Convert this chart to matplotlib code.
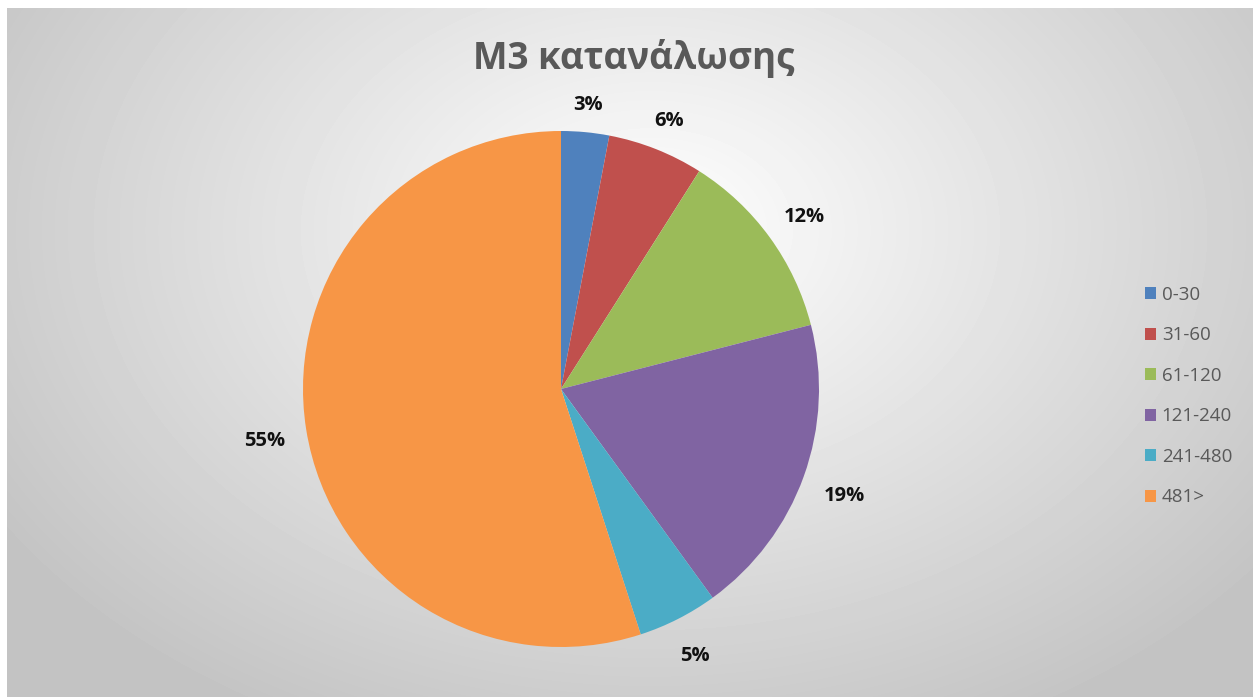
# Pie chart: M3 κατανάλωσης
import numpy as np
import matplotlib.pyplot as plt
from matplotlib.patches import Patch

labels = ["0-30", "31-60", "61-120", "121-240", "241-480", "481>"]
values = [3, 6, 12, 19, 5, 55]
colors = ["#4F81BD", "#C0504D", "#9BBB59", "#8064A2", "#4BACC6", "#F79646"]
title = "M3 κατανάλωσης"

W, H = 1253, 697
fig = plt.figure(figsize=(W / 100, H / 100), dpi=100)

# background: radial grey gradient, white margin top/left
bg = fig.add_axes([0, 0, 1, 1])
yy, xx = np.mgrid[0:H, 0:W]
d = np.sqrt(((xx - 650) / 780.0) ** 2 + ((yy - 230) / 560.0) ** 2)
d = np.clip(d, 0, 1)
g = 1.0 - (60 / 255.0) * d
g[:8, :] = 1.0
g[:, :7] = 1.0
bg.imshow(g, cmap="gray", vmin=0, vmax=1, aspect="auto",
          extent=[0, W, H, 0], interpolation="bilinear")
bg.set_axis_off()

# pie
cx, cy, r = 561, 389, 258
ax = fig.add_axes([(cx - r) / W, (H - cy - r) / H, 2 * r / W, 2 * r / H])
wedges, _, autotexts = ax.pie(
    values, colors=colors, startangle=90, counterclock=False,
    autopct="%d%%", pctdistance=1.15, radius=1,
    wedgeprops=dict(linewidth=0),
    textprops=dict(fontsize=14.5, fontweight="bold", color="#111111",
                   family=["Open Sans", "DejaVu Sans"]))
ax.set_xlim(-1, 1)
ax.set_ylim(-1, 1)
ax.set_aspect("equal")

# put labels just outside the rim, like "outside end"
fig.canvas.draw()
rend = fig.canvas.get_renderer()
for w, t in zip(wedges, autotexts):
    a = np.deg2rad((w.theta1 + w.theta2) / 2)
    bb = t.get_window_extent(rend)
    half = 0.5 * (bb.width * abs(np.cos(a)) + bb.height * abs(np.sin(a))) / r
    dist = 1.08 + half
    t.set_position((dist * np.cos(a), dist * np.sin(a) - 5 / r))

fig.text(634 / W, 1 - 58 / H, title, ha="center", va="center",
         fontsize=26.5, fontweight="bold", color="#595959",
         family=["Open Sans", "DejaVu Sans"])

handles = [Patch(facecolor=c, edgecolor="none") for c in colors]
fig.legend(handles, labels, loc="upper left",
           bbox_to_anchor=(1128 / W, 1 - 269 / H), frameon=False,
           handlelength=0.6, handleheight=0.6, handletextpad=0.3,
           labelspacing=1.2, labelcolor="#595959",
           prop=dict(size=13.5, family=["Open Sans", "DejaVu Sans"]))

fig.savefig("out.png", dpi=100)
